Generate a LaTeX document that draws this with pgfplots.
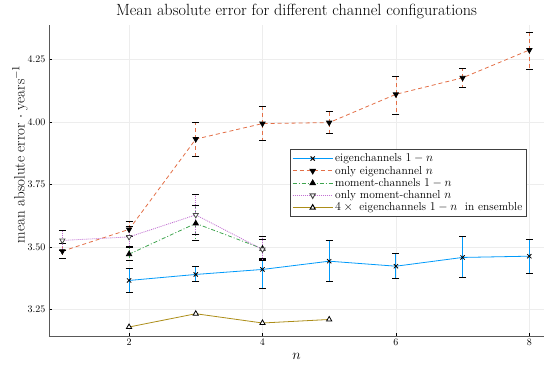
\documentclass[border=0pt]{standalone}
\usepackage{pgfplots}
\pgfplotsset{compat=1.18}
\pgfplotsset{mylegend/.style={legend image code/.code={\draw[mark repeat=2,mark phase=2,##1,line width=1pt] plot coordinates {(0pt,0pt) (20pt,0pt) (40pt,0pt)};}}}
\definecolor{c1}{HTML}{009AFA}
\definecolor{c2}{HTML}{E36F47}
\definecolor{c3}{HTML}{3EA44E}
\definecolor{c4}{HTML}{C271D2}
\definecolor{c5}{HTML}{AC8D18}
\pgfplotstableread{
x y ep em
2 3.366 0.048 0.048
3 3.390 0.030 0.030
4 3.410 0.040 0.076
5 3.443 0.081 0.081
6 3.423 0.049 0.049
7 3.458 0.082 0.080
8 3.463 0.067 0.069
}\sone
\pgfplotstableread{
x y ep em
1 3.483 0.030 0.031
2 3.570 0.030 0.030
3 3.931 0.065 0.070
4 3.993 0.067 0.069
5 3.997 0.043 0.044
6 4.110 0.072 0.080
7 4.176 0.037 0.038
8 4.287 0.069 0.077
}\stwo
\pgfplotstableread{
x y ep em
2 3.471 0.025 0.024
3 3.594 0.070 0.067
4 3.493 0.037 0.040
}\sthree
\pgfplotstableread{
x y ep em
1 3.526 0.041 0.041
2 3.540 0.040 0.040
3 3.628 0.080 0.080
4 3.490 0.053 0.045
}\sfour
\pgfplotstableread{
x y
2 3.180
3 3.233
4 3.196
5 3.210
}\sfive
\begin{document}
\begin{tikzpicture}
\begin{axis}[
 scale only axis, width=495pt, height=311pt,
 xmin=0.8, xmax=8.22, ymin=3.144, ymax=4.387,
 axis lines*=left,
 axis line style={black!65, line width=0.9pt},
 xtick={2,4,6,8}, ytick={3.25,3.5,3.75,4,4.25},
 yticklabel style={/pgf/number format/.cd, fixed, fixed zerofill, precision=2},
 tick align=inside, major tick length=3pt, tick style={black, line width=0.6pt},
 grid=major, grid style={black!7, line width=0.5pt},
 tick label style={font=\fontsize{10}{12}\selectfont},
 title={Mean absolute error for different channel configurations},
 title style={font=\fontsize{16.2}{18}\selectfont, yshift=-3pt},
 xlabel={$n$}, ylabel={mean absolute error $\cdot$ years$^{-1}$},
 label style={font=\fontsize{15}{18}\selectfont},
 ylabel style={at={(axis description cs:-0.036,0.585)}, anchor=south},
 legend style={at={(0.965,0.6)}, anchor=north east, font=\fontsize{11.5}{13}\selectfont,
   draw=black!75, line width=0.8pt, inner sep=2pt, row sep=-1.2pt},
 legend cell align=left,
]
\addplot[c1, line width=0.8pt, mark=x, mark options={black, solid, mark size=3pt}, mylegend,
  error bars/.cd, y dir=both, y explicit,
  error bar style={c1, line width=0.9pt},
  error mark options={black, line width=1pt, mark size=3.5pt, rotate=90}]
  table[x=x, y=y, y error plus=ep, y error minus=em] {\sone};
\addlegendentry{eigenchannels $1-n$}
\addplot[c2, line width=0.8pt, dash pattern=on 4pt off 3pt, mark=triangle*, mark options={black, fill=black, solid, rotate=180, mark size=3pt}, mylegend,
  error bars/.cd, y dir=both, y explicit,
  error bar style={c2, line width=0.8pt, dash pattern=on 4pt off 3pt},
  error mark options={black, solid, line width=1pt, mark size=3.5pt, rotate=90}]
  table[x=x, y=y, y error plus=ep, y error minus=em] {\stwo};
\addlegendentry{only eigenchannel $n$}
\addplot[c3, line width=0.8pt, dash pattern=on 4pt off 2pt on 1pt off 2pt, mark=triangle*, mark options={black, fill=black, solid, mark size=3pt}, mylegend,
  error bars/.cd, y dir=both, y explicit,
  error bar style={c3, line width=0.8pt, dash pattern=on 4pt off 2pt on 1pt off 2pt},
  error mark options={black, solid, line width=1pt, mark size=3.5pt, rotate=90}]
  table[x=x, y=y, y error plus=ep, y error minus=em] {\sthree};
\addlegendentry{moment-channels $1-n$}
\addplot[c4, line width=0.8pt, dash pattern=on 1pt off 1pt, mark=triangle*, mark options={draw=black!70, fill=white, solid, rotate=180, mark size=3pt}, mylegend,
  error bars/.cd, y dir=both, y explicit,
  error bar style={c4, line width=0.8pt, dash pattern=on 1pt off 1pt},
  error mark options={black, solid, line width=1pt, mark size=3.5pt, rotate=90}]
  table[x=x, y=y, y error plus=ep, y error minus=em] {\sfour};
\addlegendentry{only moment-channel $n$}
\addplot[c5, line width=0.8pt, mark=triangle*, mark options={draw=black, fill=white, solid, mark size=3pt}, mylegend]
  table[x=x, y=y] {\sfive};
\addlegendentry{$4 \times{}$ eigenchannels $1-n$\ \ in ensemble}
\end{axis}
\pgfresetboundingbox
\path ([shift={(-49pt,-31pt)}]current axis.south west) rectangle ([shift={(6pt,25pt)}]current axis.north east);
\end{tikzpicture}
\end{document}
